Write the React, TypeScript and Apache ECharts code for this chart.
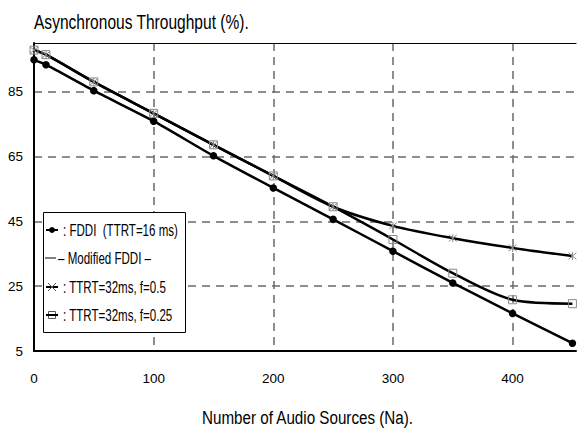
import React, { useEffect, useRef } from 'react';
import * as echarts from 'echarts';

const audioSources = [0, 10, 50, 100, 150, 200, 250, 300, 350, 400, 450];
const fddi = [94.8, 93.3, 85.3, 75.9, 65.2, 55.3, 45.6, 35.8, 26.0, 16.6, 7.4];
const ttrt32f05 = [97.8, 96.4, 88.0, 78.3, 68.6, 59.0, 49.5, 43.6, 39.8, 36.8, 34.3];
const ttrt32f025 = [97.8, 96.4, 88.0, 78.3, 68.6, 59.0, 49.5, 39.4, 29.0, 20.8, 19.6];

const titleText = 'Asynchronous Throughput (%).';
const xName = 'Number of Audio Sources (Na).';
const legendLabels = [': FDDI  (TTRT=16 ms)', '\u2013 Modified FDDI \u2013', ': TTRT=32ms, f=0.5', ': TTRT=32ms, f=0.25'];

const FONT = "'Liberation Sans', Arial, sans-serif";
const STAR = 'path://M-4,-5L4,5M4,-5L-4,5M0,-6L0,6';

const pairs = (ys: number[]) => audioSources.map((x, i) => [x, ys[i]]);

export default function App() {
  const ref = useRef<HTMLDivElement>(null);
  useEffect(() => {
    if (!ref.current) return;
    const chart = echarts.init(ref.current, null, { renderer: 'svg' });
    const legendText = (i: number, x: number, y: number) => ({
      type: 'text', x, y, scaleX: 0.68, z: 11,
      style: { text: legendLabels[i], font: `17px ${FONT}`, fill: '#000', textVerticalAlign: 'middle' },
    });
    const gridLine = { show: true, showMinLine: false, showMaxLine: false, lineStyle: { color: '#6a6a6a', width: 1.5, type: [8, 6] } };
    chart.setOption({
      animation: false,
      backgroundColor: '#fff',
      grid: { left: 34, right: 1, top: 43, bottom: 80, containLabel: false },
      xAxis: [
        {
          type: 'value', min: 0, max: 453, interval: 100,
          axisLine: { show: true, lineStyle: { color: '#000', width: 2 } },
          axisTick: { show: false },
          axisLabel: { showMaxLabel: false, margin: 20, fontFamily: FONT, fontSize: 13.5, color: '#000' },
          splitLine: gridLine,
        },
        {
          type: 'value', position: 'top', min: 0, max: 453,
          axisLine: { show: true, lineStyle: { color: '#000', width: 1.2 } },
          axisTick: { show: false }, axisLabel: { show: false }, splitLine: { show: false },
        },
      ],
      yAxis: {
        type: 'value', min: 5, max: 100, interval: 20,
        axisLine: { show: true, lineStyle: { color: '#000', width: 2 } },
        axisTick: { show: false },
        axisLabel: { showMaxLabel: false, margin: 11, fontFamily: FONT, fontSize: 13.5, color: '#000' },
        splitLine: gridLine,
      },
      series: [
        {
          name: 'FDDI (TTRT=16 ms)', type: 'line', data: pairs(fddi), smooth: 0.2,
          symbol: 'circle', symbolSize: 7.5,
          lineStyle: { color: '#000', width: 2.5 }, itemStyle: { color: '#000' }, z: 3,
        },
        {
          name: 'TTRT=32ms, f=0.5', type: 'line', data: pairs(ttrt32f05), smooth: 0.3,
          symbol: STAR, symbolSize: 8,
          lineStyle: { color: '#000', width: 2.5 },
          itemStyle: { color: 'none', borderColor: '#8a8a8a', borderWidth: 1 }, z: 3,
        },
        {
          name: 'TTRT=32ms, f=0.25', type: 'line', data: pairs(ttrt32f025), smooth: 0.3,
          symbol: 'rect', symbolSize: 8,
          lineStyle: { color: '#000', width: 2.5 },
          itemStyle: { color: 'none', borderColor: '#8a8a8a', borderWidth: 1 }, z: 3,
        },
      ],
      graphic: [
        {
          type: 'text', x: 34, y: 22, scaleX: 0.74,
          style: { text: titleText, font: `21px ${FONT}`, fill: '#000', textVerticalAlign: 'middle' },
        },
        {
          type: 'text', x: 307.5, y: 417, scaleX: 0.8,
          style: { text: xName, font: `19px ${FONT}`, fill: '#000', textAlign: 'center', textVerticalAlign: 'middle' },
        },
        {
          type: 'rect', z: 10, shape: { x: 43.5, y: 212.5, width: 142, height: 120 },
          style: { fill: '#fff', stroke: '#000', lineWidth: 1 },
        },
        { type: 'line', z: 11, shape: { x1: 46, y1: 230, x2: 58, y2: 230 }, style: { stroke: '#000', lineWidth: 2 } },
        { type: 'circle', z: 11, shape: { cx: 52, cy: 230, r: 3 }, style: { fill: '#000' } },
        legendText(0, 63, 230),
        { type: 'line', z: 11, shape: { x1: 45, y1: 258, x2: 56, y2: 258 }, style: { stroke: '#000', lineWidth: 1 } },
        legendText(1, 58, 258),
        { type: 'line', z: 11, shape: { x1: 46, y1: 287, x2: 58, y2: 287 }, style: { stroke: '#000', lineWidth: 2 } },
        { type: 'line', z: 11, shape: { x1: 48, y1: 283, x2: 56, y2: 291 }, style: { stroke: '#555', lineWidth: 1 } },
        { type: 'line', z: 11, shape: { x1: 56, y1: 283, x2: 48, y2: 291 }, style: { stroke: '#555', lineWidth: 1 } },
        legendText(2, 63, 287),
        { type: 'rect', z: 11, shape: { x: 48.5, y: 311.5, width: 7, height: 7 }, style: { fill: 'none', stroke: '#555', lineWidth: 1 } },
        { type: 'line', z: 11, shape: { x1: 46, y1: 315, x2: 58, y2: 315 }, style: { stroke: '#000', lineWidth: 2 } },
        legendText(3, 63, 315),
      ],
    });
    return () => chart.dispose();
  }, []);
  return <div ref={ref} style={{ position: 'fixed', left: 0, top: 0, width: 577, height: 431 }} />;
}
